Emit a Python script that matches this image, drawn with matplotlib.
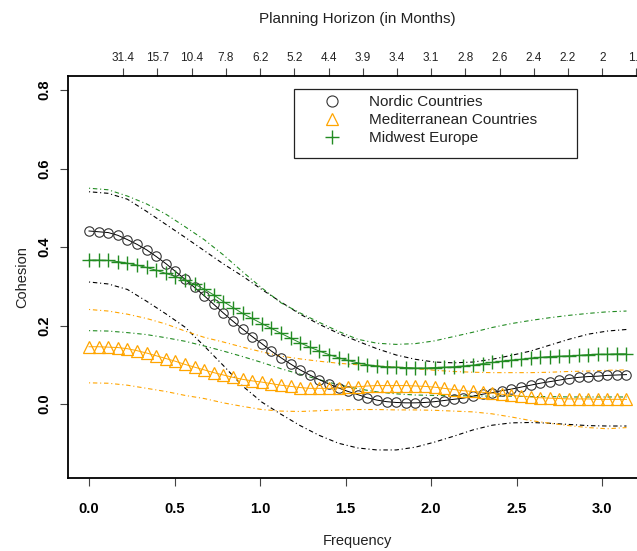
import numpy as np
import matplotlib
matplotlib.use("Agg")
import matplotlib.pyplot as plt
from matplotlib.lines import Line2D
from matplotlib.patches import Rectangle

plt.rcParams['font.family'] = ['Liberation Sans', 'DejaVu Sans']

# ---------------- data ----------------
n_points = 57
n_band = 29
freq = np.linspace(0, np.pi, n_points)
freq_band = np.linspace(0, np.pi, n_band)

nordic = [0.441, 0.439, 0.437, 0.430, 0.419, 0.407, 0.393, 0.376, 0.358, 0.338,
          0.318, 0.297, 0.276, 0.254, 0.232, 0.211, 0.191, 0.172, 0.154, 0.135,
          0.118, 0.102, 0.087, 0.074, 0.062, 0.051, 0.041, 0.032, 0.024, 0.016,
          0.010, 0.006, 0.004, 0.003, 0.003, 0.004, 0.006, 0.009, 0.012, 0.015,
          0.020, 0.025, 0.029, 0.034, 0.038, 0.043, 0.048, 0.053, 0.057, 0.061,
          0.065, 0.068, 0.070, 0.071, 0.073, 0.074, 0.075]
midwest = [0.367, 0.367, 0.366, 0.363, 0.359, 0.354, 0.348, 0.341, 0.333, 0.325,
           0.316, 0.305, 0.293, 0.278, 0.261, 0.246, 0.231, 0.218, 0.205, 0.193,
           0.180, 0.168, 0.156, 0.145, 0.135, 0.126, 0.118, 0.111, 0.105, 0.100,
           0.097, 0.095, 0.094, 0.093, 0.092, 0.092, 0.093, 0.094, 0.095, 0.097,
           0.099, 0.103, 0.106, 0.109, 0.112, 0.114, 0.117, 0.119, 0.121, 0.122,
           0.123, 0.124, 0.126, 0.127, 0.127, 0.128, 0.128]
mediterranean = [0.146, 0.146, 0.145, 0.144, 0.141, 0.136, 0.130, 0.123, 0.116, 0.109,
                 0.101, 0.094, 0.087, 0.080, 0.074, 0.068, 0.063, 0.059, 0.056, 0.052,
                 0.048, 0.045, 0.042, 0.040, 0.040, 0.040, 0.041, 0.043, 0.044, 0.046,
                 0.047, 0.047, 0.047, 0.047, 0.046, 0.045, 0.043, 0.040, 0.037, 0.034,
                 0.032, 0.030, 0.028, 0.025, 0.022, 0.020, 0.018, 0.016, 0.015, 0.014,
                 0.013, 0.013, 0.013, 0.012, 0.012, 0.012, 0.012]

nordic_upper = [0.541, 0.537, 0.522, 0.491, 0.458, 0.425, 0.391, 0.357, 0.326, 0.292,
                0.260, 0.229, 0.203, 0.180, 0.160, 0.141, 0.125, 0.114, 0.107, 0.105,
                0.107, 0.114, 0.124, 0.135, 0.150, 0.165, 0.178, 0.186, 0.190]
nordic_lower = [0.311, 0.306, 0.292, 0.262, 0.230, 0.196, 0.148, 0.098, 0.046, 0.005,
                -0.026, -0.055, -0.080, -0.100, -0.112, -0.117, -0.117, -0.110, -0.097, -0.082,
                -0.066, -0.054, -0.048, -0.047, -0.049, -0.052, -0.055, -0.056, -0.056]
midwest_upper = [0.550, 0.546, 0.530, 0.510, 0.484, 0.452, 0.419, 0.380, 0.337, 0.296,
                 0.258, 0.232, 0.208, 0.185, 0.165, 0.155, 0.152, 0.154, 0.161, 0.172,
                 0.183, 0.195, 0.205, 0.213, 0.220, 0.226, 0.231, 0.235, 0.237]
midwest_lower = [0.187, 0.186, 0.182, 0.177, 0.169, 0.160, 0.148, 0.135, 0.121, 0.106,
                 0.090, 0.076, 0.062, 0.049, 0.039, 0.031, 0.026, 0.023, 0.022, 0.021,
                 0.021, 0.020, 0.020, 0.019, 0.019, 0.018, 0.018, 0.018, 0.018]
med_upper = [0.241, 0.237, 0.229, 0.218, 0.204, 0.186, 0.170, 0.158, 0.145, 0.133,
             0.122, 0.115, 0.109, 0.104, 0.100, 0.097, 0.094, 0.090, 0.086, 0.083,
             0.081, 0.080, 0.080, 0.080, 0.081, 0.083, 0.084, 0.086, 0.087]
med_lower = [0.054, 0.053, 0.048, 0.040, 0.032, 0.022, 0.014, 0.003, -0.006, -0.014,
             -0.018, -0.019, -0.017, -0.015, -0.014, -0.014, -0.015, -0.015, -0.016, -0.018,
             -0.020, -0.025, -0.033, -0.042, -0.049, -0.055, -0.060, -0.063, -0.060]

series_labels = ["Nordic Countries", "Mediterranean Countries", "Midwest Europe"]

x_ticks = [0.0, 0.5, 1.0, 1.5, 2.0, 2.5, 3.0]
x_ticklabels = ["0.0", "0.5", "1.0", "1.5", "2.0", "2.5", "3.0"]
y_ticks = [0.0, 0.2, 0.4, 0.6, 0.8]
y_ticklabels = ["0.0", "0.2", "0.4", "0.6", "0.8"]
top_ticks = [0.2, 0.4, 0.6, 0.8, 1.0, 1.2, 1.4, 1.6, 1.8, 2.0, 2.2, 2.4, 2.6, 2.8, 3.0, 3.2]
top_ticklabels = ["31.4", "15.7", "10.4", "7.8", "6.2", "5.2", "4.4", "3.9", "3.4",
                  "3.1", "2.8", "2.6", "2.4", "2.2", "2", "1.9"]

# ---------------- style ----------------
BLACK = "#000000"
ORANGE = "#FFA500"
GREEN = "#228B22"
dotdash = (0, (1, 2.5, 4, 2.5))

W, H = 637, 551
fig = plt.figure(figsize=(W / 100, H / 100), dpi=100)
ax_l, ax_r, ax_t, ax_b = 67.5, 648, 76, 478
ax = fig.add_axes([ax_l / W, (H - ax_b) / H, (ax_r - ax_l) / W, (ax_b - ax_t) / H])

# bands
for vals, col in [(nordic_upper, BLACK), (nordic_lower, BLACK),
                  (midwest_upper, GREEN), (midwest_lower, GREEN),
                  (med_upper, ORANGE), (med_lower, ORANGE)]:
    ax.plot(freq_band, vals, color=col, lw=0.8, linestyle=dotdash)

# estimates
ax.plot(freq, nordic, color=BLACK, lw=0.7, marker='o', ms=6.8, mfc='none', mec='#333333', mew=0.8)
ax.plot(freq, mediterranean, color=ORANGE, lw=0.7, marker='^', ms=8.0, mfc='none', mec=ORANGE, mew=0.9)
ax.plot(freq, midwest, color=GREEN, lw=0.7, marker='+', ms=9.5, mec=GREEN, mew=1.0)

ax.set_xlim(-0.1257, 3.2673)
ax.set_ylim(-0.1885, 0.836)

for s in ax.spines.values():
    s.set_linewidth(1.3)

ax.set_xticks(x_ticks)
ax.set_xticklabels(x_ticklabels, fontsize=10.5, fontweight='bold')
ax.set_yticks(y_ticks)
ax.set_yticklabels(y_ticklabels, fontsize=10.5, fontweight='bold', rotation=90, va='center')
ax.tick_params(axis='x', length=5.5, width=0.8, pad=12, color='#444444')
ax.tick_params(axis='y', length=5.5, width=0.8, pad=6, color='#444444')
ax.set_xlabel("Frequency", fontsize=10.5, color='#222222', labelpad=13)
ax.set_ylabel("Cohesion", fontsize=10.5, color='#222222', labelpad=6)

sec = ax.secondary_xaxis('top')
sec.set_xticks(top_ticks)
sec.set_xticklabels(top_ticklabels, fontsize=8.5, color='#222222')
sec.tick_params(axis='x', length=5.5, width=0.8, pad=3, color='#444444')
sec.spines['top'].set_visible(False)
sec.set_xlabel("Planning Horizon (in Months)", fontsize=11, color='#222222', labelpad=21)

# legend
handles = [Line2D([], [], linestyle='none', marker='o', ms=8, mfc='none', mec='#333333', mew=0.8),
           Line2D([], [], linestyle='none', marker='^', ms=8.5, mfc='none', mec=ORANGE, mew=0.9),
           Line2D([], [], linestyle='none', marker='+', ms=10, mec=GREEN, mew=1.0)]
fs = 11
fs_px = fs * 100 / 72
leg = fig.legend(handles, series_labels, loc='upper left',
                 bbox_to_anchor=((332 - fs_px) / W, (H - 95) / H),
                 bbox_transform=fig.transFigure, frameon=False, fontsize=fs,
                 borderpad=0, borderaxespad=0, handlelength=2, handletextpad=1.42,
                 labelspacing=0.26)
for t in leg.get_texts():
    t.set_color('#222222')
fig.patches.append(Rectangle((294 / W, (H - 158.3) / H), 283 / W, 69 / H,
                             transform=fig.transFigure, fill=False,
                             edgecolor='#222222', lw=0.9))

fig.savefig("out.png", dpi=100)
